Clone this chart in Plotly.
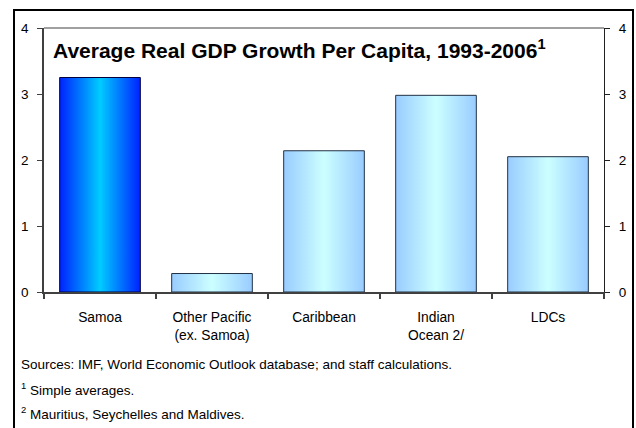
import plotly.graph_objects as go

categories = ["Samoa", "Other Pacific<br>(ex. Samoa)", "Caribbean", "Indian<br>Ocean 2/", "LDCs"]
values = [3.25, 0.28, 2.14, 2.98, 2.05]
y_ticks = [0, 1, 2, 3, 4]
title_text = "<b>Average Real GDP Growth Per Capita, 1993-2006<sup>1</sup></b>"
footnotes = [
    "Sources: IMF, World Economic Outlook database; and staff calculations.",
    "<sup>1</sup> Simple averages.",
    "<sup>2</sup> Mauritius, Seychelles and Maldives.",
]

FONT = "Arial, 'Liberation Sans', sans-serif"
W, H = 636, 428
L, R, T, B = 44, 32, 28, 136
BAR_W = 0.72

fig = go.Figure()
for i, v in enumerate(values):
    if i == 0:
        cs = [[0, "#0022ff"], [0.5, "#00ccff"], [1, "#0022ff"]]
        lc = "#000040"
    else:
        cs = [[0, "#99ccff"], [0.5, "#ccffff"], [1, "#99ccff"]]
        lc = "#223044"
    x0, x1 = i - BAR_W / 2, i + BAR_W / 2
    fig.add_trace(go.Scatter(
        x=[x0, x0, x1, x1, x0], y=[0, v, v, 0, 0],
        mode="lines", fill="toself",
        fillgradient=dict(type="horizontal", colorscale=cs),
        line=dict(color=lc, width=1),
        hoverinfo="skip", showlegend=False,
    ))

# invisible trace for right axis
fig.add_trace(go.Scatter(x=[0], y=[0], yaxis="y2", mode="markers",
                         marker=dict(opacity=0), showlegend=False, hoverinfo="skip"))

pw = W - L - R
ph = H - T - B
def px(x):
    return (x - L) / pw
def py(y):
    return (H - B - y) / ph

fig.update_layout(
    width=W, height=H,
    margin=dict(l=L, r=R, t=T, b=B, autoexpand=False),
    paper_bgcolor="white", plot_bgcolor="white",
    font=dict(family=FONT, size=13.5, color="black"),
    xaxis=dict(
        range=[-0.5, 4.5], tickmode="array",
        tickvals=list(range(len(categories))), ticktext=categories,
        ticks="", showgrid=False, zeroline=False,
        showline=True, linecolor="#404040", linewidth=1.5,
        tickfont=dict(size=13.8), ticklabelstandoff=12,
        minor=dict(tickmode="array", tickvals=[i - 0.5 for i in range(len(categories) + 1)],
                   ticks="outside", ticklen=5, tickcolor="#404040", tickwidth=1.5, showgrid=False),
        fixedrange=True,
    ),
    yaxis=dict(
        range=[0, 4], tickvals=y_ticks, ticks="outside", ticklen=5,
        tickcolor="#404040", showgrid=False, zeroline=False,
        showline=True, linecolor="#404040", linewidth=1.5,
        tickfont=dict(size=13.5), ticklabelstandoff=6, fixedrange=True,
    ),
    yaxis2=dict(
        range=[0, 4], tickvals=y_ticks, overlaying="y", side="right",
        ticks="outside", ticklen=5, tickcolor="#202020", showgrid=False,
        zeroline=False, showline=True, linecolor="#202020", linewidth=1,
        tickfont=dict(size=13.5), ticklabelstandoff=6, fixedrange=True,
    ),
)

# top border of plot area
fig.add_shape(type="line", xref="paper", yref="paper", x0=0, x1=1, y0=1, y1=1,
              line=dict(color="#808080", width=1.5))
# outer frame
fig.add_shape(type="rect", xref="paper", yref="paper",
              x0=px(14), x1=px(633), y0=py(H + 20), y1=py(10),
              line=dict(color="black", width=2), layer="above")

fig.add_annotation(text=title_text, xref="paper", yref="paper",
                   x=px(51), y=py(49), xanchor="left", yanchor="middle",
                   showarrow=False, font=dict(size=21, family=FONT, color="black"))

for txt, yy in zip(footnotes, [364, 389, 413]):
    fig.add_annotation(text=txt, xref="paper", yref="paper",
                       x=px(19), y=py(yy), xanchor="left", yanchor="middle",
                       showarrow=False, font=dict(size=13.5, family=FONT, color="black"))

fig.write_html("out.html", config={"displayModeBar": False},
               post_script="document.body.style.margin='0';document.body.style.overflow='hidden';")
